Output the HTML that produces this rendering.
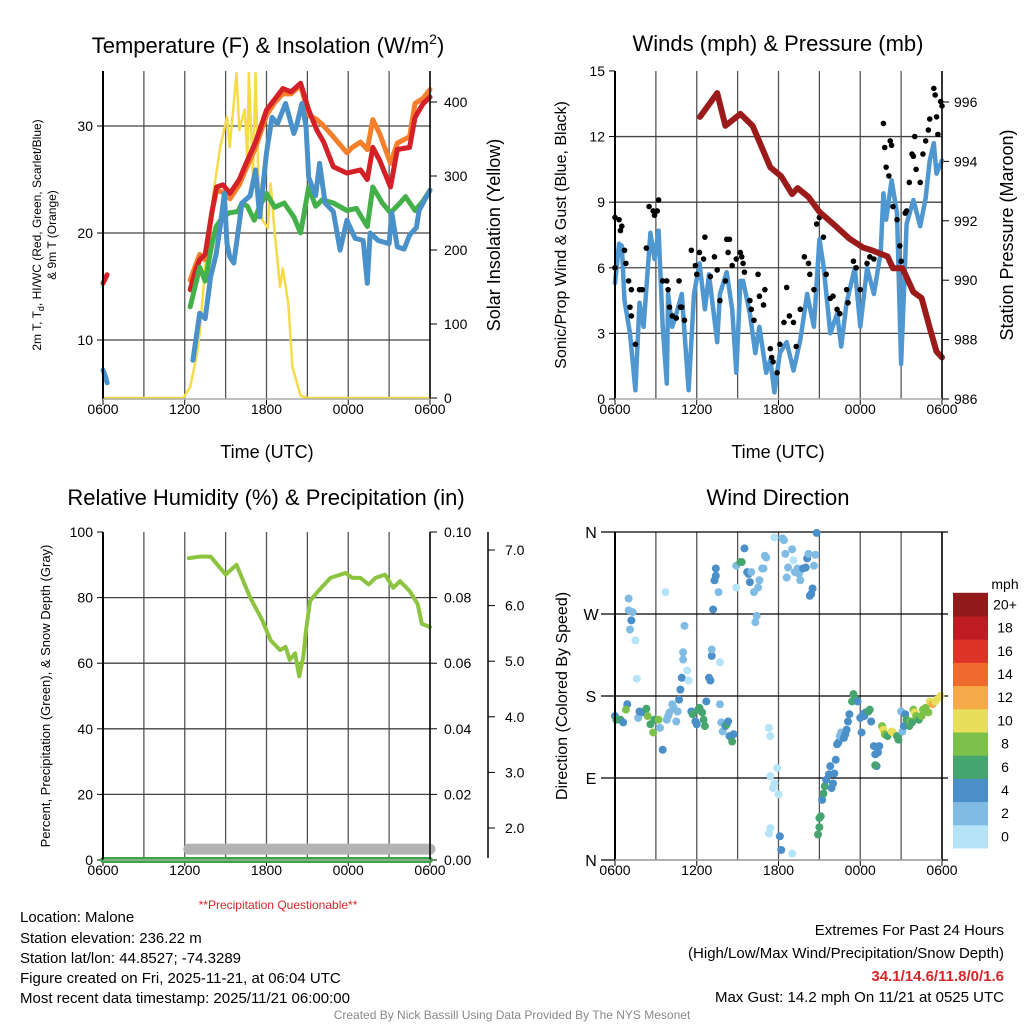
<!DOCTYPE html>
<html><head><meta charset="utf-8"><style>
body{margin:0;background:#fff}
svg{display:block;font-family:"Liberation Sans",Arial,sans-serif}
</style></head><body>
<svg id="s" width="1024" height="1024" viewBox="0 0 1024 1024">
<text x="268" y="53" font-size="22" text-anchor="middle">Temperature (F) &amp; Insolation (W/m<tspan font-size="14" dy="-9">2</tspan><tspan dy="9">)</tspan></text>
<text x="778" y="51" font-size="22" text-anchor="middle">Winds (mph) &amp; Pressure (mb)</text>
<text x="266" y="505" font-size="22" text-anchor="middle">Relative Humidity (%) &amp; Precipitation (in)</text>
<text x="778" y="505" font-size="22" text-anchor="middle">Wind Direction</text>

<text transform="translate(41,235) rotate(-90)" font-size="12" text-anchor="middle">2m T, T<tspan font-size="9" dy="3">d</tspan><tspan dy="-3">, HI/WC (Red, Green, Scarlet/Blue)</tspan></text>
<text transform="translate(56,235) rotate(-90)" font-size="12" text-anchor="middle">&amp; 9m T (Orange)</text>
<text transform="translate(500,235) rotate(-90)" font-size="18" text-anchor="middle">Solar Insolation (Yellow)</text>
<text transform="translate(566,235) rotate(-90)" font-size="16" text-anchor="middle">Sonic/Prop Wind &amp; Gust (Blue, Black)</text>
<text transform="translate(1013,235) rotate(-90)" font-size="18" text-anchor="middle">Station Pressure (Maroon)</text>
<text transform="translate(50,696) rotate(-90)" font-size="13" text-anchor="middle">Percent, Precipitation (Green), &amp; Snow Depth (Gray)</text>
<text transform="translate(567,696) rotate(-90)" font-size="16" text-anchor="middle">Direction (Colored By Speed)</text>
<text x="267" y="458" font-size="18" text-anchor="middle">Time (UTC)</text>
<text x="778" y="458" font-size="18" text-anchor="middle">Time (UTC)</text>
<text x="278" y="909" font-size="12" fill="#d62728" text-anchor="middle">**Precipitation Questionable**</text>

<g font-size="15">
<text x="20" y="922">Location: Malone</text>
<text x="20" y="943">Station elevation: 236.22 m</text>
<text x="20" y="963">Station lat/lon: 44.8527; -74.3289</text>
<text x="20" y="983">Figure created on Fri, 2025-11-21, at 06:04 UTC</text>
<text x="20" y="1003">Most recent data timestamp: 2025/11/21 06:00:00</text>
</g>
<g font-size="15" text-anchor="end">
<text x="1004" y="935">Extremes For Past 24 Hours</text>
<text x="1004" y="958">(High/Low/Max Wind/Precipitation/Snow Depth)</text>
<text x="1004" y="981" fill="#d62728" font-weight="bold">34.1/14.6/11.8/0/1.6</text>
<text x="1004" y="1002">Max Gust: 14.2 mph On 11/21 at 0525 UTC</text>
</g>
<text x="512" y="1019" font-size="12" fill="#888" text-anchor="middle">Created By Nick Bassill Using Data Provided By The NYS Mesonet</text>
<g id="g"></g>
</svg>
<script>
// ---- Temperature panel data (hours since 0600 UTC, degF) ----
const redT=[0,0.3,null,6.4,6.8,7.1,7.5,8.0,8.34,8.8,9.32,10.0,10.5,11.2,12.0,12.6,13.2,13.8,14.5,15.1,15.7,16.2,16.9,17.9,18.9,19.4,19.8,20.3,21.1,21.6,22.5,22.9,23.5,24];
const redV=[15.3,16.1,null,14.7,16.5,17.5,18.0,22,24.3,24.5,23.7,25.0,26.5,28.5,31.5,32.5,33.5,33.2,34.0,31.5,29.6,28.5,26.2,25.6,25.9,25.0,28.0,26.8,24.3,27.8,28.0,30.8,32.1,32.7];
const orgT=[6.4,6.8,7.1,7.5,8.0,8.34,8.8,9.32,10.0,10.5,11.2,12.0,12.6,13.2,13.8,14.5,15.1,15.7,16.2,16.9,17.9,18.3,18.9,19.4,19.8,20.3,21.1,21.6,22.5,22.9,23.5,24];
const orgV=[15.6,17.0,18.0,17.5,22,24.0,23.8,23.2,24.5,26.0,28.0,31.0,32.2,33.0,33.0,33.8,31.0,30.6,30.0,29.0,27.5,28.0,28.5,27.8,30.6,29.3,26.5,28.4,29.0,32.1,32.6,33.4];
const grnT=[6.4,7.1,7.5,8.0,8.3,8.8,9.3,9.9,10.2,10.6,11.1,11.5,12.0,12.6,13.3,14.0,14.5,15.1,15.6,16.1,16.9,17.9,18.6,19.4,19.8,20.5,21.1,21.8,22.2,22.9,23.5,24];
const grnV=[13.1,16.8,15.5,19,20.6,21.5,21.9,22.0,22.8,22.5,21.2,22.5,23.7,22.4,22.8,21.5,20.0,24.3,22.5,23.1,22.8,22.1,22.3,20.6,24.3,22.8,21.9,22.8,23.4,22.1,23.0,24.0];
const bluT=[0,0.2,0.3,null,6.6,7.1,7.5,7.9,8.3,8.6,8.9,9.1,9.3,9.6,10.2,10.8,11.2,11.5,12.0,12.4,12.8,13.4,14.0,14.2,14.6,14.9,15.1,15.6,15.9,16.3,16.9,17.4,17.9,18.5,19.1,19.4,19.6,20.2,21.0,21.2,21.6,22.1,22.5,23.0,23.2,24];
const bluV=[7.2,6.5,6.0,null,8.1,12.5,12.0,15.9,18.0,20.6,23.7,19.0,17.8,17.2,22.8,23.5,25.9,21.5,27.5,30.8,30.2,32.1,29.3,30.0,32.1,30.0,25.2,23.5,26.5,22.8,22.0,18.4,21.2,19.5,19.3,15.3,20.0,19.3,19.0,21.9,18.7,18.5,19.8,20.5,22.1,24.0];
const solT=[0,5.9,6.4,6.9,7.1,7.6,7.9,8.1,8.6,9.1,9.3,9.8,10.0,10.4,10.6,10.7,11.0,11.2,11.4,11.7,12.1,12.3,12.6,13.0,13.2,13.6,13.9,14.5,15,24];
const solV=[0,0,15,60,88,200,240,277,339,380,339,439,362,390,320,439,300,439,300,240,230,290,223,150,175,128,42,3,0,0];
const tempTicks=[10,20,30], solTicks=[0,100,200,300,400];
const timeLabels=["0600","1200","1800","0000","0600"];
// ---- Wind panel data ----
const windT=[0,0.3,0.5,0.7,1.1,1.5,1.8,2.1,2.6,2.9,3.2,3.5,3.8,3.9,4.2,4.5,4.9,5.4,5.8,6.2,6.6,6.9,7.5,7.7,8.2,8.6,8.9,9.2,9.4,9.9,10.3,10.6,11.1,11.4,11.7,12.1,12.6,13.1,13.6,14.1,14.6,15.0,15.3,15.8,16.3,16.6,17.0,17.6,18.0,18.5,19.0,19.5,19.7,19.9,20.3,20.7,21.0,21.4,21.9,22.4,22.8,23.1,23.4,23.6,24.0];
const windV=[5.3,7.1,7.0,4.5,3.0,0.4,4.4,3.3,7.6,6.4,7.7,3.3,0.7,4.8,3.3,3.9,4.8,0.4,4.8,6.2,4.1,5.7,2.6,4.8,5.8,4.1,1.2,5.4,5.4,3.9,2.1,3.3,1.2,1.8,0.3,2.1,2.6,1.3,2.7,4.8,3.3,7.3,6.1,3.0,3.9,2.4,4.4,6.0,3.3,6.0,4.8,6.7,9.4,8.2,10.0,8.5,1.6,8.0,9.1,7.9,9.2,10.9,11.7,10.3,10.9];
const gustT=[0,0.3,0.5,0.4,0,0.7,0.8,1.0,1.2,1.1,1.2,1.5,1.8,2.0,2.3,2.5,2.8,2.9,3.1,3.2,3.5,3.8,3.9,4.0,4.2,4.5,4.7,4.8,4.9,5.1,5.6,5.9,6.0,6.2,6.5,6.6,7.0,7.3,7.5,7.7,8.1,8.2,8.3,8.4,8.6,8.9,9.2,9.3,9.4,9.5,9.9,10.0,10.2,10.5,10.6,10.9,11.0,11.4,11.5,11.6,11.9,12.1,12.4,12.6,12.8,13.1,13.3,13.6,13.9,14.2,14.3,14.6,14.8,15.0,15.3,15.5,15.8,16.0,16.3,16.5,17.0,17.1,17.5,17.7,18.0,18.5,18.7,19.0,19.7,19.8,19.9,20.1,20.2,20.3,20.4,20.7,20.9,21.0,21.3,21.4,21.6,21.8,21.9,22.0,22.1,22.4,22.6,22.8,23.0,23.1,23.4,23.5,23.6,23.7,23.9,24.0];
const gustV=[8.3,8.2,7.9,7.7,6.0,6.8,6.2,5.4,5.0,4.2,3.8,2.5,5.0,5.0,6.9,8.8,8.6,8.4,8.6,9.1,5.4,5.4,5.0,4.2,3.8,3.7,5.4,4.2,4.2,3.6,6.8,6.1,5.7,6.7,6.4,7.4,5.6,6.5,5.9,4.5,5.4,7.3,6.7,7.3,6.1,6.4,6.7,6.5,6.2,5.8,4.5,4.1,3.6,5.7,4.7,4.3,5.0,2.3,1.9,1.7,1.2,2.5,3.5,5.1,3.8,3.5,2.4,4.1,6.5,6.2,5.7,5.0,8.0,8.3,7.4,5.7,4.6,4.7,4.1,3.9,5.0,4.4,6.3,6.0,5.0,6.2,6.5,6.4,12.6,11.5,10.6,10.2,11.8,11.6,8.8,8.2,7.0,6.3,8.5,8.6,9.9,11.2,11.1,12.0,10.5,9.9,11.2,11.8,12.3,12.8,14.2,13.9,12.9,12.1,13.6,13.4];
const presT=[6.24,7.5,8.1,9.2,10.1,11.4,12.2,13.0,13.4,14.2,15.0,16.0,17.2,18.2,18.9,20.0,20.4,21.1,21.9,22.5,23.1,23.6,24];
const presV=[995.5,996.3,995.2,995.6,995.2,993.8,993.5,992.9,993.1,992.8,992.3,991.9,991.4,991.1,991.0,990.8,990.4,990.4,989.6,989.4,988.4,987.6,987.4];
const windTicks=[0,3,6,9,12,15], presTicks=[986,988,990,992,994,996];
// ---- RH panel data ----
const rhT=[6.3,7.1,7.9,8.4,9.0,9.8,10.8,11.7,12.3,13.0,13.4,13.7,14.1,14.4,14.7,14.9,15.2,15.8,16.7,17.8,18.3,18.9,19.5,20.0,20.7,21.3,21.8,22.5,23.1,23.4,24.0];
const rhV=[92,92.5,92.5,90,87,90,80,73,67,64,65,61,63,56,62,70,79,82,86,87.5,86,86,84,86,87,83,85,82,78,72,71];
const snowT=[6.3,24.0], snowV=[1.62,1.62];
const precipT=[0,24], precipV=[0,0];
const rhTicks=[0,20,40,60,80,100], prTicks=["0.00","0.02","0.04","0.06","0.08","0.10"], snowTicks=["2.0","3.0","4.0","5.0","6.0","7.0"];
// ---- Wind direction data (hours, degrees, mph) ----
const wdT=[0.0,0.1,0.4,0.6,0.9,0.8,1.0,1.0,1.3,1.2,
1.1,1.5,1.6,1.7,1.8,2.1,2.3,2.4,2.6,2.8,
2.9,3.2,3.3,3.5,3.7,3.8,3.9,4.0,4.2,4.3,
4.5,4.6,4.7,4.8,4.9,5.0,5.0,5.1,5.3,5.4,
5.6,5.7,5.9,6.0,6.1,6.2,6.4,6.5,6.6,6.7,
6.9,7.0,7.1,7.1,7.2,7.3,7.4,7.4,7.6,7.7,
7.7,7.8,7.9,8.1,8.2,8.3,8.4,8.6,8.7,8.9,
8.9,9.2,9.3,9.5,9.7,9.8,9.9,10.0,10.2,10.3,
10.4,10.5,10.6,10.8,10.9,11.0,11.1,11.3,11.4,11.4,
11.3,11.4,11.6,11.7,11.7,11.9,12.0,12.1,12.2,12.3,
12.4,12.5,12.6,12.7,13.0,13.0,13.1,13.2,13.4,13.5,
13.6,13.8,14.0,14.1,14.2,14.3,14.4,14.5,14.6,14.7,
14.8,14.9,15.0,15.0,15.1,15.2,15.3,15.4,15.5,15.7,
15.8,15.9,16.0,16.1,16.2,16.3,16.4,16.5,16.6,16.8,
16.9,17.0,17.1,17.2,17.4,17.5,17.6,17.7,17.8,18.0,
18.1,18.2,18.3,18.4,18.6,18.7,18.8,19.0,19.1,19.2,
19.3,19.4,19.1,19.6,19.7,19.8,20.0,20.3,20.4,20.7,
20.8,21.0,21.1,21.2,21.3,21.4,21.6,21.7,21.8,21.9,
22.0,22.1,22.3,22.5,22.6,22.8,23.0,23.1,23.3,23.5,
23.6,23.9];
const wdDir=[158,154,154,151,171,165,287,274,272,263,
253,241,199,156,163,162,166,158,149,140,
154,154,145,121,294,154,158,162,171,167,
152,163,176,187,200,220,228,257,208,197,
163,160,152,149,165,167,162,154,147,174,
200,197,224,231,275,307,312,320,294,217,
171,151,141,147,149,152,136,130,138,299,
323,327,327,342,316,314,305,316,294,261,
268,299,307,320,320,334,332,145,136,35,
29,92,79,84,354,101,72,26,11,353,
351,336,310,321,341,7,329,316,320,314,
307,320,321,331,336,290,292,298,323,335,
359,28,36,46,48,66,73,81,88,94,
103,79,84,95,110,127,129,136,140,134,
138,143,152,160,174,182,176,176,174,156,
140,160,158,162,163,165,152,125,116,103,
118,125,104,147,143,138,136,141,140,136,
132,163,141,147,160,154,147,152,151,165,
162,158,154,158,165,167,162,174,171,174,
176,180];
const wdSpd=[5,7,7,5,5,9,3,3,3,5,
3,1,1,3,5,5,7,9,7,9,
7,9,3,5,1,3,3,3,3,3,
3,3,5,5,5,3,3,3,1,1,
5,7,5,5,7,7,7,7,7,5,
5,5,5,3,5,5,5,5,3,1,
3,3,3,5,7,5,5,7,5,1,
3,7,7,5,5,5,5,3,3,3,
3,3,3,3,3,3,3,1,1,1,
1,1,1,1,1,1,1,5,5,3,
3,3,3,3,3,1,1,3,3,3,
3,5,5,5,3,5,5,5,3,3,
5,7,7,7,7,5,7,7,5,5,
5,5,5,5,5,5,5,3,3,5,
5,5,5,5,7,7,7,7,5,5,
5,5,5,5,7,7,5,5,5,5,
5,5,7,9,11,9,7,11,11,7,
7,3,3,5,5,7,7,9,7,9,
11,9,7,9,9,9,9,11,13,11,
11,11];
const cbLabels=["0","2","4","6","8","10","12","14","16","18","20+"];
const cbColors=["#b5e3f7","#7fbbe3","#4a8fc7","#46a56e","#7cc24a","#e7df5a","#f5a947","#ef6a2d","#dc3427","#bc1c22","#921a1a"];

const NS="http://www.w3.org/2000/svg", G=document.getElementById('g');
function mk(tag,attrs,name,parent){const e=document.createElementNS(NS,tag);for(const k in attrs)e.setAttribute(k,attrs[k]);


(parent||G).appendChild(e);return e;}
function txt(x,y,s,size,anchor,name){const e=mk('text',{x:x,y:y,'font-size':size,'text-anchor':anchor},name);e.textContent=s;return e;}
const L=103,R=430,W=R-L;
function panel(px,top,bot){
  const sx=t=>px+L+t/24*W;
  const bg=mk('g',{},'panel-grid');
  for(let h=0;h<=24;h+=3)mk('line',{x1:sx(h),x2:sx(h),y1:top,y2:bot,stroke:'#555','stroke-width':1.3},'v-gridline',bg);
  for(let i=0;i<5;i++){mk('line',{x1:sx(i*6),x2:sx(i*6),y1:bot,y2:bot+6,stroke:'#000'},'x-tick',bg);
    txt(sx(i*6),bot+15,timeLabels[i],14,'middle','x-tick-label');}
  return sx;
}
function path(xs,ys,fx,fy,attrs,name){let d='',pen=false;
  for(let i=0;i<xs.length;i++){if(xs[i]===null||ys[i]===null){pen=false;continue;}
    d+=(pen?'L':'M')+fx(xs[i]).toFixed(1)+','+fy(ys[i]).toFixed(1);pen=true;}
  const a=Object.assign({d:d,fill:'none','stroke-linejoin':'round','stroke-linecap':'round'},attrs);return mk('path',a,name);}
function frame(x0,x1,top,bot){mk('line',{x1:x0,x2:x0,y1:top,y2:bot,stroke:'#000','stroke-width':2},'left-axis');
 mk('line',{x1:x1,x2:x1,y1:top,y2:bot,stroke:'#000','stroke-width':1.5},'right-axis');
 mk('line',{x1:x0,x2:x1,y1:bot,y2:bot,stroke:'#aaa','stroke-width':1.5},'bottom-axis');}

// ---- Panel 1: temperature ----
{const top=71,bot=399,sx=panel(0,top,bot);
 const ty=v=>126+(30-v)*10.7, sy=v=>398-v*0.74;
 tempTicks.forEach(v=>{mk('line',{x1:L,x2:R,y1:ty(v),y2:ty(v),stroke:'#444','stroke-width':1.3},'h-gridline');
   mk('line',{x1:L-6,x2:L,y1:ty(v),y2:ty(v),stroke:'#000'},'y-tick');txt(L-10,ty(v)+5,String(v),14,'end','temp-tick-label');});
 solTicks.forEach(v=>{mk('line',{x1:R,x2:R+7,y1:sy(v),y2:sy(v),stroke:'#000'},'solar-tick');txt(R+14,sy(v)+5,String(v),14,'start','solar-tick-label');});
 path(solT,solV,sx,sy,{stroke:'#f5dc47','stroke-width':2.5},'solar-line');
 path(orgT,orgV,sx,ty,{stroke:'#f57f2a','stroke-width':5},'orange-9m-temp');
 path(redT,redV,sx,ty,{stroke:'#d42027','stroke-width':5},'red-2m-temp');
 path(grnT,grnV,sx,ty,{stroke:'#43b049','stroke-width':5},'green-heat-index');
 path(bluT,bluV,sx,ty,{stroke:'#4a91c9','stroke-width':5},'blue-dewpoint');
 frame(L,R,top,bot);}

// ---- Panel 2: winds ----
{const top=71,bot=399,sx=panel(512,top,bot),X0=615,X1=942;
 const wy=v=>399-v*21.87, py=v=>399-(v-986)*29.7;
 windTicks.forEach(v=>{if(v>0&&v<15)mk('line',{x1:X0,x2:X1,y1:wy(v),y2:wy(v),stroke:'#444','stroke-width':1.3},'h-gridline');
   mk('line',{x1:X0-6,x2:X0,y1:wy(v),y2:wy(v),stroke:'#000'},'y-tick');txt(X0-10,wy(v)+5,String(v),14,'end','wind-tick-label');});
 presTicks.forEach(v=>{mk('line',{x1:X1,x2:X1+7,y1:py(v),y2:py(v),stroke:'#000'},'pressure-tick');txt(X1+12,py(v)+5,String(v),14,'start','pressure-tick-label');});
 path(windT,windV,sx,wy,{stroke:'#4f97d1','stroke-width':4.5},'sonic-wind-line');
 for(let i=0;i<gustT.length;i++)mk('circle',{cx:sx(gustT[i]),cy:wy(gustV[i]),r:2.8,fill:'#000'},'gust-point');
 path(presT,presV,sx,py,{stroke:'#9b1b1b','stroke-width':6},'pressure-line');
 frame(X0,X1,top,bot);}

// ---- Panel 3: humidity ----
{const top=532,bot=860,sx=panel(0,top,bot);
 const ry=v=>860-v*3.28, sny=v=>828-(v-2)*55.6;
 rhTicks.forEach((v,i)=>{if(v>0&&v<100)mk('line',{x1:L,x2:R,y1:ry(v),y2:ry(v),stroke:'#444','stroke-width':1.3},'h-gridline');
   mk('line',{x1:L-6,x2:L,y1:ry(v),y2:ry(v),stroke:'#000'},'y-tick');txt(L-10,ry(v)+5,String(v),14,'end','rh-tick-label');
   mk('line',{x1:R,x2:R+7,y1:ry(v),y2:ry(v),stroke:'#000'},'precip-tick');txt(R+14,ry(v)+5,prTicks[i],14,'start','precip-tick-label');});
 mk('line',{x1:488,x2:488,y1:532,y2:858,stroke:'#000','stroke-width':1.5},'snow-axis');
 snowTicks.forEach(v=>{const y=sny(+v);mk('line',{x1:488,x2:495,y1:y,y2:y,stroke:'#000'},'snow-tick');txt(505,y+5,v,14,'start','snow-tick-label');});
 path(snowT,snowV,sx,sny,{stroke:'#b3b3b3','stroke-width':11},'snow-depth-line');
 path(precipT,precipV,sx,ry,{stroke:'#3aa646','stroke-width':6},'precip-line');
 path(rhT,rhV,sx,ry,{stroke:'#8cc43f','stroke-width':4},'rh-line');
 frame(L,R,top,bot);}

// ---- Panel 4: wind direction ----
{const top=532,bot=860,sx=panel(512,top,bot),X0=615,X1=942;
 const dy=v=>860-v/360*328;
 const lab=["N","E","S","W","N"];
 [0,90,180,270,360].forEach((v,i)=>{mk('line',{x1:X0-14,x2:X1+6,y1:dy(v),y2:dy(v),stroke:'#000','stroke-width':1.3},'h-gridline');
   txt(X0-24,dy(v)+6,lab[i],16,'middle','direction-tick-label');});
 const n=Math.min(wdT.length,wdDir.length,wdSpd.length);
 for(let i=0;i<n;i++){const c=cbColors[Math.min(10,Math.floor(wdSpd[i]/2))];
   mk('circle',{cx:sx(wdT[i]),cy:dy(wdDir[i]),r:4,fill:c},'direction-point');}
 frame(X0,X1,top,bot);
 const cx=953,cw=35,ch=23.2,cb=848;
 for(let i=0;i<11;i++){mk('rect',{x:cx,y:cb-(i+1)*ch,width:cw,height:ch+0.5,fill:cbColors[i]},'colorbar-box');
   txt(1005,cb-(i+0.5)*ch+5,cbLabels[i],14,'middle','colorbar-label');}
 txt(1005,589,'mph',14,'middle','colorbar-title');}
</script>
</body></html>
